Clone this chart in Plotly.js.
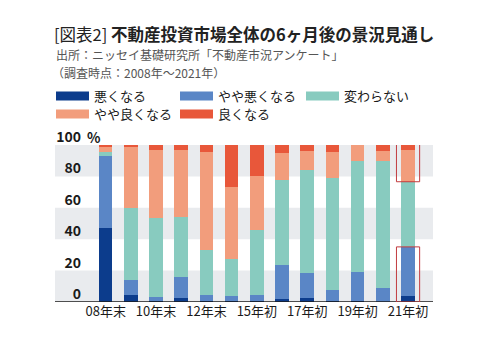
<!DOCTYPE html>
<html><head><meta charset="utf-8">
<script src="https://cdn.plot.ly/plotly-3.0.1.min.js"></script>
<style>html,body{margin:0;padding:0;background:#fff;}#chart{width:487px;height:350px;}</style>
</head><body><div id="chart"></div>
<script>
// ---- data ----
const categories = ['08年末','09年末','10年末','11年末','12年末','13年末','15年初','16年初','17年初','18年初','19年初','20年初','21年初'];
const tickCategories = ['08年末','10年末','12年末','15年初','17年初','19年初','21年初'];
const seriesNames = ['悪くなる','やや悪くなる','変わらない','やや良くなる','良くなる'];
const worse          = [47, 4.5, 0.5, 2.7, 0.5, 0.6, 0.5, 1.9, 2.6, 0.5, 0.5, 0, 3.8];
const slightlyWorse  = [46, 9.3, 2.7, 13.3, 4.0, 3.0, 4.0, 21.5, 15.9, 6.9, 18.6, 8.9, 31.3];
const unchanged      = [2.5, 46.2, 50.4, 38.3, 28.5, 23.6, 41.5, 54.3, 65.5, 71.7, 70.9, 81.1, 41.5];
const slightlyBetter = [3.5, 39, 43.4, 42.7, 62.8, 45.8, 34.4, 17.4, 12.2, 16.7, 10, 6.2, 20];
const better         = [1, 1, 3, 3, 4.2, 27, 19.6, 4.9, 3.8, 4.2, 0, 3.8, 3.4];
const yTickVals = [0, 20, 40, 60, 80, 100];
const yTickText = ['0', '20', '40', '60', '80', '100'];

// ---- style ----
const colors = ['#0c3c8c', '#5a86c6', '#88cbbf', '#f29d7c', '#e8573a'];
const FONT = '"Noto Sans CJK JP", "Noto Sans", sans-serif';
const W = 487, H = 350;
const L = 82, R = 54, T = 145, B = 48;
const plotW = W - L - R, plotH = H - T - B;
const leftPx = 55;
const px2paperX = p => (p - L) / plotW;
const py2paperY = p => (H - B - p) / plotH;
// legend slot positions (px): column left, row top
const legendSlots = [[51, 81], [175, 81], [301, 81], [51, 99], [175, 99]];

const seriesData = [worse, slightlyWorse, unchanged, slightlyBetter, better];
const traces = [];
seriesData.forEach((vals, i) => {
  traces.push({
    type: 'bar', x: categories, y: vals, name: seriesNames[i],
    marker: {color: colors[i], line: {width: 0}},
    legendgroup: 'g' + i, showlegend: false, hoverinfo: 'x+y+name'
  });
});
seriesNames.forEach((n, i) => {
  traces.push({
    type: 'scatter', mode: 'lines', x: [null], y: [null], name: n,
    line: {color: colors[i], width: 9}, legendgroup: 'g' + i, showlegend: true,
    legend: i === 0 ? 'legend' : 'legend' + (i + 1)
  });
});

// highlight boxes around last bar
const last = categories.length - 1;
const lowTop = worse[last] + slightlyWorse[last];
const midTop = lowTop + unchanged[last];
const fullTop = midTop + slightlyBetter[last] + better[last];

const shapes = [];
[[0, 20], [40, 60], [80, 100]].forEach(b => shapes.push({
  type: 'rect', xref: 'paper', yref: 'y', x0: px2paperX(leftPx), x1: 1, y0: b[0], y1: b[1],
  fillcolor: '#e9ebee', line: {width: 0}, layer: 'below'
}));
shapes.push({type: 'line', xref: 'paper', yref: 'y', x0: px2paperX(leftPx), x1: 1, y0: 0, y1: 0,
  line: {color: '#1a1a1a', width: 1.5}});
shapes.push({type: 'rect', xref: 'x', yref: 'y', x0: last - 0.46, x1: last + 0.46, y0: 0, y1: lowTop,
  line: {color: '#c23b3f', width: 1}, fillcolor: 'rgba(0,0,0,0)'});
shapes.push({type: 'rect', xref: 'x', yref: 'y', x0: last - 0.46, x1: last + 0.46, y0: midTop, y1: fullTop + 0.4,
  line: {color: '#c23b3f', width: 1}, fillcolor: 'rgba(0,0,0,0)'});

const annotations = [
  {text: '出所：ニッセイ基礎研究所「不動産市況アンケート」', xref: 'paper', yref: 'paper',
   x: px2paperX(leftPx - 1), y: py2paperY(55), xanchor: 'left', yanchor: 'middle', showarrow: false,
   font: {family: FONT, size: 12, color: '#555'}},
  {text: '（調査時点：2008年～2021年）', xref: 'paper', yref: 'paper',
   x: px2paperX(leftPx - 5), y: py2paperY(72), xanchor: 'left', yanchor: 'middle', showarrow: false,
   font: {family: FONT, size: 12, color: '#555'}},
  {text: '<b>%</b>', xref: 'paper', yref: 'y', x: px2paperX(85), y: 100, yshift: 8,
   xanchor: 'left', yanchor: 'middle', showarrow: false,
   font: {family: FONT, size: 14, color: '#1a1a1a'}}
];

const layout = {
  width: W, height: H, margin: {l: L, r: R, t: T, b: B, pad: 0, autoexpand: false},
  paper_bgcolor: '#fff', plot_bgcolor: 'rgba(0,0,0,0)',
  font: {family: FONT, color: '#1a1a1a'},
  title: {text: '[図表2] <b>不動産投資市場全体の6ヶ月後の景況見通し</b>',
    xref: 'container', yref: 'container', x: (leftPx - 1) / W, y: 1 - 35 / H,
    xanchor: 'left', yanchor: 'middle', font: {family: FONT, size: 16.5, color: '#222'}},
  barmode: 'stack', bargap: 0.46,
  xaxis: {type: 'category', range: [-0.94, 12.99], tickmode: 'array', tickvals: tickCategories,
    ticktext: tickCategories, ticks: '', showgrid: false, zeroline: false, showline: false,
    tickfont: {family: FONT, size: 13, color: '#1a1a1a'}, fixedrange: true},
  yaxis: {range: [0, 100], tickmode: 'array', tickvals: yTickVals, ticktext: yTickText.map(t => '<b>' + t + '</b>'),
    ticks: '', showgrid: false, zeroline: false, showline: false, ticklabelshift: -8, ticklabelstandoff: 0,
    tickfont: {family: FONT, size: 14, color: '#1a1a1a'}, fixedrange: true},
  shapes: shapes, annotations: annotations, showlegend: true
};
legendSlots.forEach((s, i) => {
  layout[i === 0 ? 'legend' : 'legend' + (i + 1)] = {
    orientation: 'h', xref: 'container', yref: 'container', x: s[0] / W, y: 1 - s[1] / H,
    xanchor: 'left', yanchor: 'top', itemwidth: 33,
    font: {family: FONT, size: 13, color: '#1a1a1a'}, bgcolor: 'rgba(0,0,0,0)', borderwidth: 0
  };
});

Plotly.newPlot('chart', traces, layout, {displayModeBar: false, staticPlot: true});
</script>
</body></html>
